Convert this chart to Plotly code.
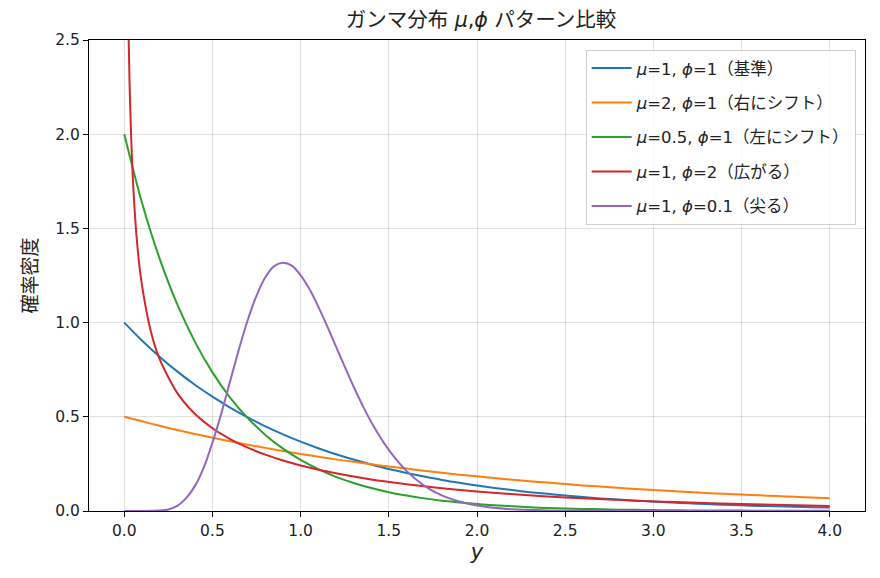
import plotly.graph_objects as go

# values
y_grid = [0.0, 0.1, 0.2, 0.3, 0.4, 0.5, 0.6, 0.7, 0.8, 0.9, 1.0,
          1.1, 1.2, 1.3, 1.4, 1.5, 1.6, 1.7, 1.8, 1.9, 2.0,
          2.1, 2.2, 2.3, 2.4, 2.5, 2.6, 2.7, 2.8, 2.9, 3.0,
          3.1, 3.2, 3.3, 3.4, 3.5, 3.6, 3.7, 3.8, 3.9, 4.0]

dens_base = [1.000, 0.905, 0.819, 0.741, 0.670, 0.607, 0.549, 0.497, 0.449, 0.407, 0.368,
             0.333, 0.301, 0.273, 0.247, 0.223, 0.202, 0.183, 0.165, 0.150, 0.135,
             0.122, 0.111, 0.100, 0.091, 0.082, 0.074, 0.067, 0.061, 0.055, 0.050,
             0.045, 0.041, 0.037, 0.033, 0.030, 0.027, 0.025, 0.022, 0.020, 0.018]

dens_right = [0.500, 0.476, 0.452, 0.430, 0.409, 0.389, 0.370, 0.352, 0.335, 0.319, 0.303,
              0.288, 0.274, 0.261, 0.248, 0.236, 0.225, 0.214, 0.203, 0.193, 0.184,
              0.175, 0.166, 0.158, 0.151, 0.143, 0.136, 0.130, 0.123, 0.117, 0.112,
              0.106, 0.101, 0.096, 0.091, 0.087, 0.083, 0.079, 0.075, 0.071, 0.068]

dens_left = [2.000, 1.637, 1.341, 1.098, 0.899, 0.736, 0.602, 0.493, 0.404, 0.331, 0.271,
             0.222, 0.181, 0.149, 0.122, 0.100, 0.082, 0.067, 0.055, 0.045, 0.037,
             0.030, 0.025, 0.020, 0.016, 0.013, 0.011, 0.009, 0.007, 0.006, 0.005,
             0.004, 0.003, 0.003, 0.002, 0.002, 0.001, 0.001, 0.001, 0.001, 0.001]

y_wide = [0.01, 0.02, 0.03, 0.05, 0.075, 0.1, 0.15, 0.2, 0.3, 0.4, 0.5,
          0.6, 0.7, 0.8, 0.9, 1.0, 1.2, 1.4, 1.6, 1.8, 2.0,
          2.25, 2.5, 2.75, 3.0, 3.25, 3.5, 3.75, 4.0]
dens_wide = [3.97, 2.79, 2.27, 1.74, 1.40, 1.20, 0.956, 0.807, 0.627, 0.516, 0.439,
             0.382, 0.336, 0.299, 0.268, 0.242, 0.200, 0.167, 0.142, 0.121, 0.104,
             0.086, 0.072, 0.061, 0.051, 0.044, 0.037, 0.032, 0.027]

y_sharp = [0.0, 0.1, 0.2, 0.25, 0.3, 0.35, 0.4, 0.45, 0.5, 0.55, 0.6, 0.65, 0.7, 0.75,
           0.8, 0.85, 0.9, 0.95, 1.0, 1.05, 1.1, 1.15, 1.2, 1.25, 1.3, 1.35, 1.4,
           1.5, 1.6, 1.7, 1.8, 1.9, 2.0, 2.2, 2.4, 2.6, 2.8, 3.0, 3.5, 4.0]
dens_sharp = [0.0, 0.0, 0.002, 0.008, 0.027, 0.067, 0.132, 0.229, 0.363, 0.517, 0.688,
              0.858, 1.014, 1.143, 1.241, 1.300, 1.318, 1.302, 1.251, 1.178, 1.085,
              0.982, 0.874, 0.766, 0.661, 0.563, 0.473,
              0.324, 0.213, 0.135, 0.083, 0.050, 0.029, 0.009, 0.003, 0.001, 0.0, 0.0, 0.0, 0.0]

labels = ["<i>μ</i>=1, <i>ϕ</i>=1（基準）",
          "<i>μ</i>=2, <i>ϕ</i>=1（右にシフト）",
          "<i>μ</i>=0.5, <i>ϕ</i>=1（左にシフト）",
          "<i>μ</i>=1, <i>ϕ</i>=2（広がる）",
          "<i>μ</i>=1, <i>ϕ</i>=0.1（尖る）"]
colors = ["#1f77b4", "#ff7f0e", "#2ca02c", "#d62728", "#9467bd"]

series = [(y_grid, dens_base), (y_grid, dens_right), (y_grid, dens_left),
          (y_wide, dens_wide), (y_sharp, dens_sharp)]

FONT = "DejaVu Sans, Noto Sans CJK JP, sans-serif"

fig = go.Figure()
for i, (xs, ys) in enumerate(series):
    fig.add_trace(go.Scatter(
        x=xs, y=ys, mode="lines", name=labels[i],
        line=dict(color=colors[i], width=2, shape="spline", smoothing=0.8),
        legendgroup=str(i),
    ))

axis_common = dict(
    showline=True, linecolor="black", linewidth=1, mirror=True,
    ticks="outside", ticklen=5, tickcolor="black",
    showgrid=True, gridcolor="rgba(0,0,0,0.12)", gridwidth=1,
    zeroline=False, tickfont=dict(size=15.5, color="#222"),
)

# page body adds ~8px offset, margins compensate for it
fig.update_layout(
    width=880, height=578,
    paper_bgcolor="white", plot_bgcolor="white",
    font=dict(family=FONT, color="#222"),
    margin=dict(l=81, r=23, t=32, b=75),
    title=dict(text="ガンマ分布 <i>μ</i>,<i>ϕ</i> パターン比較", x=0.5375, xanchor="center",
               y=0.979, yanchor="middle", font=dict(size=20.5)),
    xaxis=dict(range=[-0.2, 4.2], tick0=0, dtick=0.5, tickformat=".1f",
               title=dict(text="<i>y</i>", font=dict(size=21), standoff=5), **axis_common),
    yaxis=dict(range=[0, 2.5], tick0=0, dtick=0.5, tickformat=".1f",
               title=dict(text="確率密度", font=dict(size=19), standoff=12), **axis_common),
    legend=dict(x=0.988, y=0.979, xanchor="right", yanchor="top",
                bgcolor="rgba(255,255,255,0.8)", bordercolor="#d0d0d0", borderwidth=1,
                font=dict(size=16.5), itemwidth=40, tracegroupgap=10),
    showlegend=True,
)

fig.write_html("out.html")
